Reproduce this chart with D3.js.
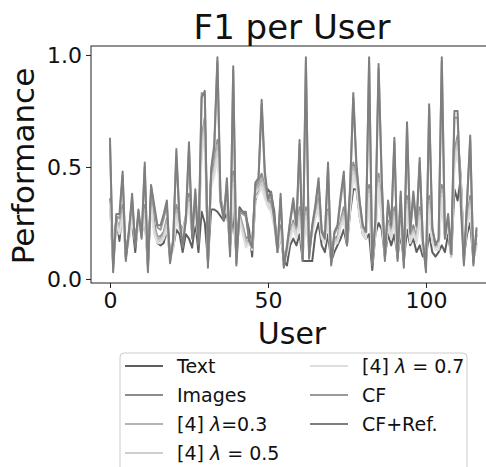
<!DOCTYPE html>
<html><head><meta charset="utf-8">
<script src="https://cdn.jsdelivr.net/npm/d3@7"></script>
<style>body{margin:0;background:#fff;} svg{display:block;font-family:"DejaVu Sans",sans-serif;}</style>
</head><body><svg id="c" width="486" height="467"></svg>
<script>
const users = d3.range(0, 117);
const text = [
.35,.08,.27,.17,.32,.10,.20,.25,.12,.28,
.20,.27,.06,.38,.25,.16,.15,.16,.22,.10,
.14,.22,.20,.12,.20,.18,.14,.25,.12,.30,
.25,.08,.31,.31,.30,.28,.26,.30,.15,.30,
.10,.32,.30,.28,.22,.10,.35,.40,.45,.38,
.40,.38,.30,.12,.20,.08,.06,.15,.18,.15,
.20,.08,.08,.08,.08,.20,.25,.15,.12,.20,
.08,.12,.15,.18,.22,.15,.30,.40,.40,.28,
.20,.18,.20,.04,.20,.25,.22,.10,.20,.15,
.20,.10,.20,.08,.22,.15,.18,.12,.15,.10,
.10,.20,.12,.10,.12,.15,.12,.20,.10,.40,
.35,.45,.10,.20,.25,.08,.20];
const images = [
.36,.07,.27,.22,.33,.13,.20,.31,.17,.27,
.21,.33,.08,.37,.24,.19,.19,.21,.27,.12,
.16,.33,.25,.20,.28,.38,.21,.32,.19,.63,
.72,.10,.46,.52,.62,.36,.30,.37,.15,.48,
.12,.29,.24,.18,.19,.15,.41,.43,.47,.41,
.36,.34,.26,.14,.24,.10,.13,.21,.26,.20,
.32,.12,.32,.15,.22,.30,.36,.20,.18,.31,
.10,.18,.19,.26,.32,.18,.36,.52,.46,.31,
.22,.20,.42,.08,.23,.47,.32,.12,.26,.20,
.32,.12,.26,.10,.37,.18,.24,.18,.32,.15,
.08,.37,.18,.15,.15,.42,.20,.26,.12,.57,
.64,.46,.12,.26,.37,.10,.16];
const lam03 = [
.35,.06,.26,.23,.31,.12,.19,.30,.18,.26,
.22,.31,.08,.36,.23,.18,.18,.20,.26,.12,
.15,.31,.25,.22,.28,.36,.22,.31,.20,.61,
.70,.10,.45,.50,.60,.35,.30,.36,.15,.46,
.12,.28,.23,.16,.18,.15,.40,.42,.45,.40,
.35,.33,.25,.14,.22,.10,.12,.20,.25,.20,
.30,.12,.30,.15,.22,.30,.35,.20,.18,.30,
.10,.18,.18,.25,.30,.18,.35,.50,.45,.30,
.22,.20,.40,.08,.22,.45,.30,.12,.25,.20,
.30,.12,.25,.10,.35,.18,.22,.18,.30,.15,
.08,.35,.18,.15,.15,.40,.20,.25,.12,.55,
.62,.45,.12,.25,.35,.10,.15];
const lam05 = [
.34,.06,.25,.21,.29,.12,.18,.28,.17,.24,
.21,.29,.08,.34,.21,.17,.17,.19,.24,.11,
.14,.29,.23,.21,.27,.34,.21,.29,.19,.58,
.67,.10,.43,.48,.57,.34,.29,.34,.15,.43,
.11,.27,.21,.15,.17,.14,.38,.40,.43,.38,
.33,.31,.24,.13,.21,.10,.12,.19,.24,.19,
.28,.11,.28,.14,.21,.28,.33,.19,.17,.28,
.09,.17,.17,.24,.28,.17,.33,.48,.43,.29,
.21,.19,.38,.08,.21,.43,.28,.11,.24,.19,
.28,.11,.24,.10,.33,.17,.21,.17,.28,.14,
.08,.33,.17,.14,.14,.38,.19,.24,.11,.53,
.60,.44,.11,.24,.33,.10,.15];
const lam07 = [
.33,.05,.24,.20,.27,.11,.17,.26,.16,.23,
.20,.27,.07,.32,.20,.16,.16,.18,.22,.10,
.13,.27,.22,.20,.26,.32,.20,.27,.18,.55,
.64,.09,.41,.46,.54,.33,.28,.32,.14,.40,
.10,.26,.20,.14,.16,.13,.36,.38,.41,.36,
.32,.30,.23,.12,.20,.09,.11,.18,.23,.18,
.26,.10,.26,.13,.20,.27,.31,.18,.16,.26,
.08,.16,.16,.23,.26,.16,.31,.46,.41,.28,
.20,.18,.36,.07,.20,.41,.26,.10,.23,.18,
.26,.10,.23,.09,.31,.16,.20,.16,.26,.13,
.07,.31,.16,.13,.13,.36,.18,.23,.10,.50,
.57,.42,.10,.23,.31,.09,.14];
const cf = [
.60,.05,.28,.27,.46,.09,.22,.36,.15,.30,
.19,.50,.04,.41,.31,.23,.22,.27,.33,.08,
.18,.55,.26,.15,.26,.58,.19,.38,.16,.83,
.82,.06,.47,.58,.97,.34,.28,.43,.11,.93,
.07,.30,.29,.28,.18,.15,.42,.44,.78,.46,
.35,.37,.26,.13,.36,.06,.15,.25,.34,.23,
.60,.09,.97,.10,.23,.32,.43,.22,.19,.50,
.07,.20,.23,.35,.46,.16,.40,.81,.49,.34,
.23,.22,.97,.07,.26,.94,.43,.09,.34,.23,
.61,.09,.37,.06,.68,.20,.37,.23,.52,.18,
.04,.76,.22,.16,.17,.97,.19,.28,.12,.72,
.72,.38,.07,.34,.62,.07,.22];
const cfRef = [
.63,.03,.29,.29,.48,.08,.21,.38,.14,.31,
.18,.52,.03,.42,.33,.24,.24,.29,.35,.07,
.17,.58,.27,.14,.27,.61,.18,.40,.15,.81,
.84,.05,.49,.60,.99,.35,.26,.45,.10,.95,
.06,.31,.30,.30,.17,.14,.43,.45,.80,.48,
.36,.39,.27,.12,.38,.05,.14,.26,.36,.24,
.62,.08,.99,.09,.24,.33,.45,.21,.18,.52,
.06,.21,.24,.37,.48,.15,.42,.83,.51,.35,
.24,.21,.99,.06,.27,.96,.45,.08,.35,.24,
.63,.08,.39,.05,.70,.21,.39,.24,.54,.17,
.03,.78,.23,.15,.18,.99,.18,.29,.11,.75,
.75,.33,.06,.35,.64,.06,.23];
const seriesNames = ["Text","Images","[4] λ=0.3","[4] λ = 0.5","[4] λ = 0.7","CF","CF+Ref."];
const seriesData = [text, images, lam03, lam05, lam07, cf, cfRef];
const seriesColors = ["#5e5e5e","#8c8c8c","#b4b4b4","#cfcfcf","#dedede","#9a9a9a","#7f7f7f"];
const xTicks = [0, 50, 100];
const yTicks = [0.0, 0.5, 1.0];

const svg = d3.select("#c");
const L = 91, T = 46, B = 283, R = 495.5;
const x = d3.scaleLinear().domain([-6.01, 122]).range([L, R]);
const y = d3.scaleLinear().domain([-0.018, 1.04]).range([B, T]);

svg.append("defs").append("clipPath").attr("id","clip")
  .append("rect").attr("x",L).attr("y",T).attr("width",R-L).attr("height",B-T);

const g = svg.append("g").attr("clip-path","url(#clip)");
const line = d3.line().x((d,i)=>x(users[i])).y(d=>y(d));
seriesData.forEach((s,k)=>{
  g.append("path").attr("d", line(s)).attr("fill","none")
   .attr("stroke", seriesColors[k]).attr("stroke-width",2).attr("stroke-linejoin","round");
});

svg.append("rect").attr("x",L).attr("y",T).attr("width",R-L).attr("height",B-T)
  .attr("fill","none").attr("stroke","#222").attr("stroke-width",1);

const xa = svg.append("g").attr("transform",`translate(0,${B})`)
  .call(d3.axisBottom(x).tickValues(xTicks).tickSize(5).tickPadding(4).tickFormat(d3.format("d")));
const ya = svg.append("g").attr("transform",`translate(${L},0)`)
  .call(d3.axisLeft(y).tickValues(yTicks).tickSize(5).tickPadding(4).tickFormat(d3.format(".1f")));
[xa, ya].forEach(a=>{
  a.select(".domain").remove();
  a.selectAll("text").attr("font-size",22).attr("font-family","DejaVu Sans").attr("fill","#111");
  a.selectAll("line").attr("stroke","#222");
});

svg.append("text").attr("x",292).attr("y",39).attr("text-anchor","middle")
  .attr("font-size",34).attr("fill","#111").text("F1 per User");
svg.append("text").attr("x",292).attr("y",344).attr("text-anchor","middle")
  .attr("font-size",30).attr("fill","#111").text("User");
svg.append("text").attr("transform","translate(34,166) rotate(-90)").attr("text-anchor","middle")
  .attr("font-size",31).attr("fill","#111").text("Performance");

const lg = svg.append("g");
lg.append("rect").attr("x",120).attr("y",353).attr("width",347).attr("height",130).attr("rx",4)
  .attr("fill","#fff").attr("stroke","#cccccc").attr("stroke-width",1);
seriesNames.forEach((n,k)=>{
  const col = k < 4 ? 0 : 1;
  const row = k < 4 ? k : k - 4;
  const hx = col === 0 ? 125 : 310;
  const cy = 366 + row * 29;
  lg.append("line").attr("x1",hx).attr("x2",hx+38).attr("y1",cy).attr("y2",cy)
    .attr("stroke",seriesColors[k]).attr("stroke-width",1.9);
  const t = lg.append("text").attr("x",hx+52).attr("y",cy+7).attr("font-size",19).attr("fill","#111");
  const parts = n.split("λ");
  if (parts.length > 1) {
    t.append("tspan").text(parts[0]);
    t.append("tspan").attr("font-style","italic").text("λ");
    t.append("tspan").text(parts[1]);
  } else t.text(n);
});
</script></body></html>
